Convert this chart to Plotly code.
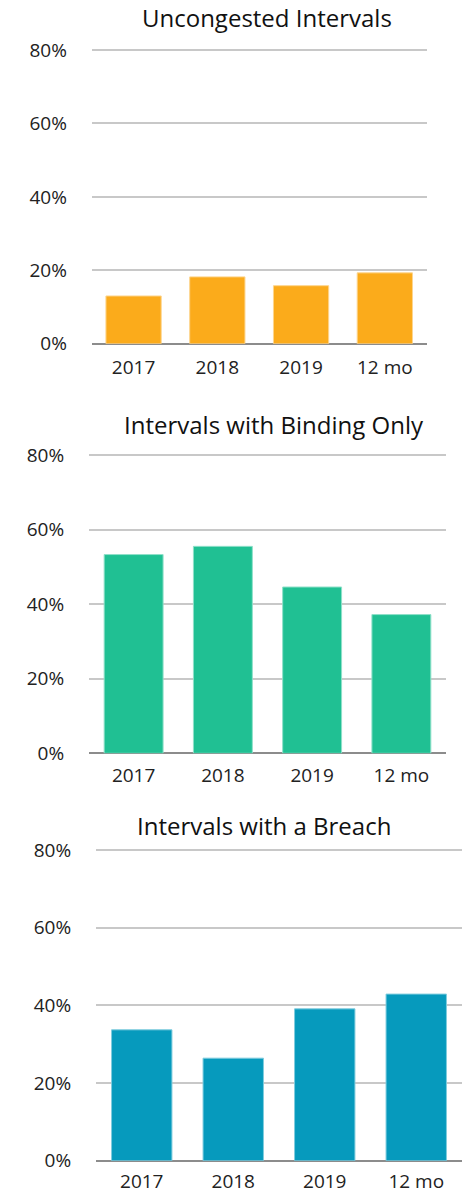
import plotly.graph_objects as go

CATEGORIES = ["2017", "2018", "2019", "12 mo"]
UNCONGESTED = [13.0, 18.2, 15.8, 19.3]
BINDING_ONLY = [53.3, 55.5, 44.6, 37.2]
BREACH = [33.7, 26.4, 39.1, 42.9]
TITLES = ["Uncongested Intervals", "Intervals with Binding Only", "Intervals with a Breach"]
Y_TICKS = [0, 20, 40, 60, 80]
Y_TICK_LABELS = ["0%", "20%", "40%", "60%", "80%"]

COLORS = ["#FBAB1B", "#20C093", "#069ABD"]
EDGES = ["#FDD58E", "#8FE0C9", "#7FCCDE"]
FONT = "Open Sans"
W, H = 462, 1196
Y_MAX = 81  # a little headroom so the 80% gridline is not clipped

# pixel boxes of each panel's plot area: (left, right, y of 80%, y of 0%)
PANELS = [
    (91.7, 426.7, 50.0, 343.7),
    (89.0, 446.0, 455.0, 753.3),
    (96.0, 462.0, 850.0, 1160.7),
]
TITLE_POS = [(267, 17), (274, 424), (264, 825)]
X_LABEL_GAP = [6, 5, 3]

fig = go.Figure()
series = [UNCONGESTED, BINDING_ONLY, BREACH]

for i, (vals, (l, r, t80, b)) in enumerate(zip(series, PANELS)):
    n = "" if i == 0 else str(i + 1)
    t = b - (b - t80) * Y_MAX / 80
    fig.add_trace(go.Bar(
        x=CATEGORIES, y=vals,
        xaxis=f"x{n}", yaxis=f"y{n}",
        marker=dict(color=COLORS[i], line=dict(color=EDGES[i], width=1)),
        width=0.66,
        hoverinfo="skip",
    ))
    fig.update_layout(**{
        f"xaxis{n}": dict(
            domain=[l / W, min(r / W, 1)], anchor=f"y{n}",
            automargin=False,
            showgrid=False, showline=False, zeroline=False,
            ticks="outside", ticklen=X_LABEL_GAP[i], tickcolor="rgba(0,0,0,0)",
            tickfont=dict(family=FONT, size=19, color="#222"),
            fixedrange=True,
        ),
        f"yaxis{n}": dict(
            domain=[1 - b / H, 1 - t / H], anchor=f"x{n}",
            automargin=False,
            range=[0, Y_MAX], tickmode="array",
            tickvals=Y_TICKS, ticktext=Y_TICK_LABELS,
            showgrid=True, gridcolor="#C8C8C8", gridwidth=2,
            zeroline=True, zerolinecolor="#8C8C8C", zerolinewidth=2,
            showline=False,
            ticks="outside", ticklen=20, tickcolor="rgba(0,0,0,0)",
            tickfont=dict(family=FONT, size=19, color="#222"),
            fixedrange=True,
        ),
    })
    cx, cy = TITLE_POS[i]
    fig.add_annotation(
        text=TITLES[i], x=cx / W, y=1 - cy / H, xref="paper", yref="paper",
        xanchor="center", yanchor="middle", showarrow=False,
        font=dict(family=FONT, size=24, color="#111"),
    )

fig.update_layout(
    width=W, height=H,
    margin=dict(l=0, r=0, t=0, b=0, autoexpand=False),
    plot_bgcolor="white", paper_bgcolor="white",
    showlegend=False,
    bargap=0.34,
)

# drop the default page margin so the figure fills the window exactly
PAGE_CSS = (
    "document.body.style.margin='0';"
    "document.body.style.overflow='hidden';"
    "document.body.style.height='1196px';"
    "document.documentElement.style.overflow='hidden';"
    "document.documentElement.style.height='1196px';"
)
fig.write_html("out.html", config={"displayModeBar": False}, post_script=PAGE_CSS)
